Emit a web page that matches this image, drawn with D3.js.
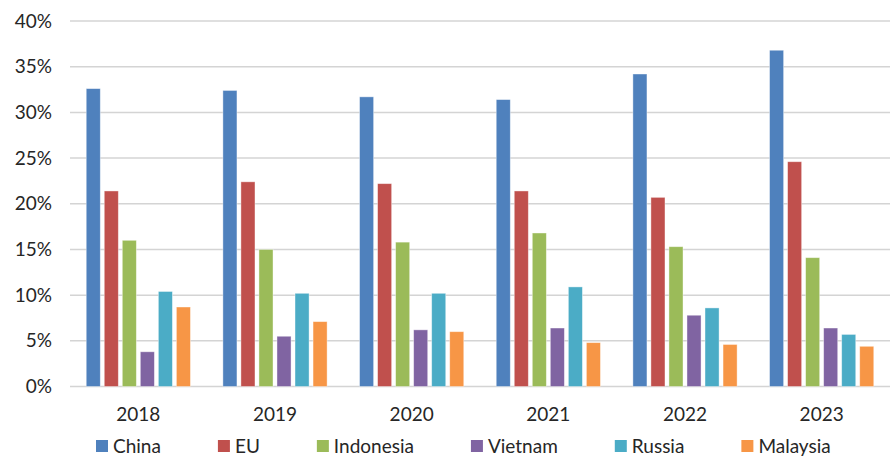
<!DOCTYPE html>
<html>
<head>
<meta charset="utf-8">
<script src="https://cdn.jsdelivr.net/npm/d3@7"></script>
<style>
  html, body { margin: 0; padding: 0; background: #fff; }
  svg { display: block; }
  text { font-family: Lato, "Noto Sans", "Liberation Sans", sans-serif; fill: #262626; }
</style>
</head>
<body>
<svg id="chart" width="893" height="457"></svg>
<script>
const years = ["2018", "2019", "2020", "2021", "2022", "2023"];
const seriesNames = ["China", "EU", "Indonesia", "Vietnam", "Russia", "Malaysia"];
const colors = ["#4F81BD", "#C0504D", "#9BBB59", "#8064A2", "#4BACC6", "#F79646"];
const china     = [32.6, 32.4, 31.7, 31.4, 34.2, 36.8];
const eu        = [21.4, 22.4, 22.2, 21.4, 20.7, 24.6];
const indonesia = [16.0, 15.0, 15.8, 16.8, 15.3, 14.1];
const vietnam   = [3.8, 5.5, 6.2, 6.4, 7.8, 6.4];
const russia    = [10.4, 10.2, 10.2, 10.9, 8.6, 5.7];
const malaysia  = [8.7, 7.1, 6.0, 4.8, 4.6, 4.4];
const yTicks = [0, 5, 10, 15, 20, 25, 30, 35, 40];

const seriesValues = [china, eu, indonesia, vietnam, russia, malaysia];

const svg = d3.select("#chart");
const margin = { left: 70, right: 3, top: 21, bottom: 71 };
const W = 893, H = 457;
const FS = "19px";

const x0 = d3.scaleBand().domain(years).range([margin.left, W - margin.right]).padding(0);
const x1 = d3.scaleBand().domain(seriesNames).range([0, x0.bandwidth()])
  .paddingInner(0.22).paddingOuter(0.9);
const y = d3.scaleLinear().domain([0, 40]).range([H - margin.bottom + 0.5, margin.top]);

// gridlines
svg.append("g").selectAll("line").data(yTicks).join("line")
  .attr("x1", margin.left).attr("x2", W - margin.right)
  .attr("y1", d => y(d)).attr("y2", d => y(d))
  .attr("stroke", "#d4d4d4").attr("stroke-width", 1.5);

// y labels
const yAxis = d3.axisLeft(y).tickValues(yTicks).tickFormat(d => d + "%").tickSize(0).tickPadding(0);
const ya = svg.append("g").attr("transform", `translate(${margin.left - 18},0)`).call(yAxis);
ya.select(".domain").remove();
ya.selectAll("text").style("font-size", FS).style("font-family", "Lato, 'Noto Sans', sans-serif").attr("fill", "#262626");

// bars
const groups = svg.append("g").selectAll("g").data(years).join("g")
  .attr("transform", d => `translate(${x0(d)},0)`);
groups.selectAll("rect")
  .data((yr, i) => seriesNames.map((s, j) => ({ s, j, v: seriesValues[j][i] })))
  .join("rect")
  .attr("x", d => x1(d.s))
  .attr("width", x1.bandwidth())
  .attr("y", d => y(d.v))
  .attr("height", d => y(0) - y(d.v))
  .attr("fill", d => colors[d.j])
  .attr("stroke", "#ffffff").attr("stroke-opacity", 0.5).attr("stroke-width", 0.8);

// x labels
const xAxis = d3.axisBottom(x0).tickSize(0).tickPadding(0);
const xa = svg.append("g").attr("transform", `translate(0,${y(0) + 34})`).call(xAxis);
xa.select(".domain").remove();
xa.selectAll("text").style("font-size", FS).style("font-family", "Lato, 'Noto Sans', sans-serif")
  .attr("fill", "#262626").attr("dy", "0");

// legend
const legend = svg.append("g").attr("transform", "translate(96,446)");
let lx = 0;
seriesNames.forEach((name, i) => {
  const g = legend.append("g").attr("transform", `translate(${lx},0)`);
  g.append("rect").attr("x", 0).attr("y", -6).attr("width", 12).attr("height", 12).attr("fill", colors[i]);
  const t = g.append("text").attr("x", 17).attr("y", 0).attr("dy", "0.35em")
    .style("font-size", FS).text(name);
  lx += 17 + t.node().getComputedTextLength() + 57;
});
</script>
</body>
</html>
